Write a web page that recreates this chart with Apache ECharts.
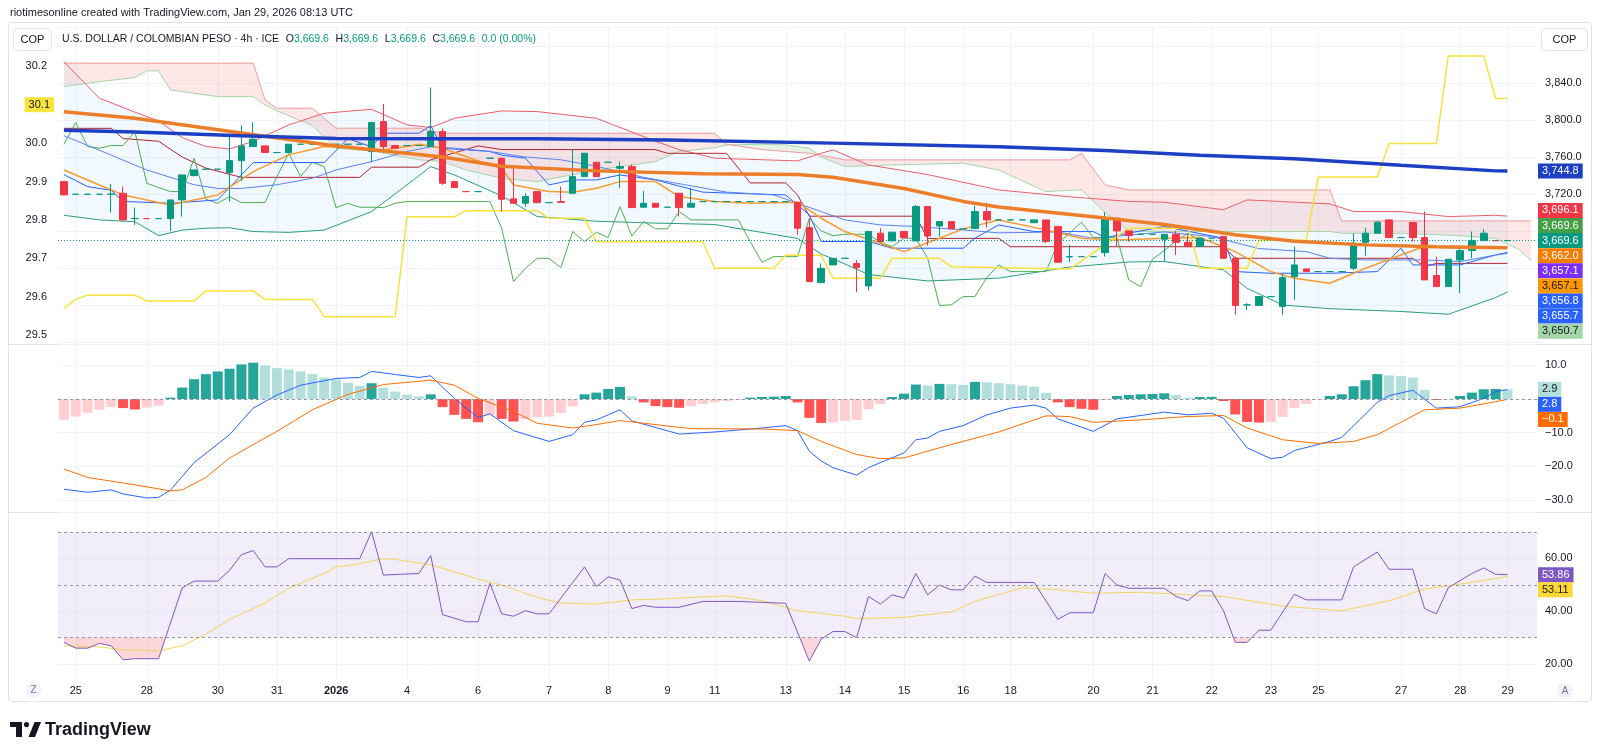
<!DOCTYPE html>
<html>
<head>
<meta charset="utf-8">
<title>USD/COP 4h</title>
<script src="https://cdn.jsdelivr.net/npm/echarts@6.0.0/dist/echarts.min.js"></script>
<style>
  html, body { margin: 0; padding: 0; background: #ffffff; }
  #chart { width: 1600px; height: 756px; }
</style>
</head>
<body>
<div id="chart"></div>
<script>
// ---------- data ----------
// x slots: one per 4h bar, plus empty room on the right
const slotCount = 125;
const dateTicks = [[1,'25'],[7,'28'],[13,'30'],[18,'31'],[23,'2026'],[29,'4'],[35,'6'],[41,'7'],[46,'8'],[51,'9'],[55,'11'],
  [61,'13'],[66,'14'],[71,'15'],[76,'16'],[80,'18'],[87,'20'],[92,'21'],[97,'22'],[102,'23'],[106,'25'],[113,'27'],[118,'28'],[122,'29']];

// candles (index 0..122)
const opens = [
  3733.4,3719.7,3719.7,3719.7,3719.7,3720.8,3693.4,3693.4,3693.4,3693.4,
  3713.6,3739.9,3746.8,3746.8,3743.2,3756.1,3771.3,3772.0,3764.8,3764.8,
  3773.8,3773.8,3773.8,3773.8,3773.8,3773.8,3765.9,3798.3,3772.4,3772.4,
  3772.4,3771.3,3787.5,3733.4,3722.6,3722.6,3758.7,3758.7,3714.7,3710.0,
  3722.6,3710.7,3711.8,3720.8,3738.8,3754.3,3754.3,3747.8,3749.6,3705.7,
  3710.0,3705.7,3720.8,3705.7,3711.8,3711.8,3711.8,3711.8,3711.8,3711.8,
  3711.8,3711.8,3711.1,3683.7,3624.2,3643.3,3650.5,3644.8,3620.6,3677.6,
  3669.3,3679.4,3669.3,3706.4,3685.5,3690.2,3682.3,3682.8,3701.0,3692.0,
  3692.0,3692.0,3689.0,3692.0,3684.8,3652.0,3652.3,3652.3,3656.7,3693.8,
  3680.1,3676.5,3676.5,3671.1,3676.5,3667.8,3663.2,3672.2,3674.0,3650.5,
  3600.0,3599.4,3609.1,3598.3,3630.7,3639.0,3636.1,3636.1,3636.1,3639.7,
  3667.8,3677.6,3692.0,3672.9,3689.1,3672.9,3631.8,3619.9,3648.7,3658.8,
  3669.6,3669.6,3669.6
];
const closes = [
  3719.0,3719.7,3719.7,3719.7,3719.9,3692.0,3693.6,3693.4,3693.4,3713.6,
  3740.6,3746.0,3746.8,3746.8,3756.1,3772.0,3779.2,3764.8,3764.8,3773.8,
  3773.8,3773.8,3773.8,3773.8,3773.8,3773.8,3797.2,3771.3,3769.5,3772.4,
  3772.4,3787.5,3731.6,3727.0,3722.6,3722.6,3758.7,3714.3,3710.0,3717.2,
  3710.7,3710.7,3711.0,3738.8,3764.1,3738.8,3754.3,3749.6,3705.3,3710.0,
  3705.7,3705.7,3705.3,3710.0,3711.8,3711.8,3711.8,3711.8,3711.8,3711.8,
  3711.8,3711.8,3683.0,3625.3,3639.7,3650.5,3650.5,3640.4,3679.4,3668.6,
  3678.7,3672.9,3706.4,3674.7,3690.2,3682.3,3682.3,3701.0,3692.0,3692.0,
  3692.0,3692.0,3692.0,3668.6,3646.2,3652.3,3652.3,3652.3,3693.8,3680.1,
  3675.0,3676.5,3676.5,3676.5,3667.8,3663.2,3672.2,3672.2,3650.5,3599.4,
  3600.2,3609.1,3609.1,3629.6,3643.3,3636.1,3636.1,3636.1,3636.1,3666.8,
  3677.6,3689.5,3672.9,3672.9,3672.9,3627.1,3619.9,3649.5,3658.8,3669.6,
  3677.6,3669.6,3669.6
];
const lows = [
  3719.0,3719.7,3719.7,3719.7,3699.9,3691.0,3686.6,3693.4,3693.4,3680.1,
  3695.6,3739.0,3746.8,3746.8,3711.8,3734.1,3771.3,3764.8,3764.8,3764.8,
  3773.8,3773.8,3773.8,3773.8,3773.8,3773.8,3754.3,3764.1,3769.5,3772.4,
  3772.4,3771.3,3729.8,3727.0,3722.6,3722.6,3758.7,3701.0,3710.0,3706.4,
  3710.0,3710.7,3711.0,3720.8,3738.8,3738.8,3754.3,3726.2,3705.3,3705.7,
  3705.7,3705.7,3695.6,3705.7,3711.8,3711.8,3711.8,3711.8,3711.8,3711.8,
  3711.8,3711.8,3675.8,3625.3,3623.5,3643.3,3650.5,3613.8,3615.6,3668.6,
  3669.3,3672.9,3669.3,3664.2,3674.0,3682.3,3682.3,3682.8,3683.7,3692.0,
  3692.0,3692.0,3689.0,3666.8,3646.2,3646.2,3652.3,3652.3,3652.3,3663.2,
  3668.6,3676.5,3676.5,3647.0,3654.1,3663.2,3663.2,3672.2,3650.5,3589.3,
  3594.7,3599.4,3609.1,3589.3,3605.5,3636.1,3636.1,3636.1,3636.1,3637.9,
  3653.4,3677.6,3672.9,3672.9,3668.6,3627.1,3619.9,3619.9,3612.7,3650.5,
  3669.6,3669.6,3669.6
];
const highs = [
  3733.4,3719.7,3719.7,3719.7,3730.9,3728.0,3705.3,3693.4,3693.4,3713.6,
  3740.6,3746.0,3746.8,3746.8,3782.8,3794.0,3797.6,3772.0,3764.8,3773.8,
  3773.8,3773.8,3773.8,3773.8,3773.8,3773.8,3797.2,3817.4,3772.4,3772.4,
  3772.4,3835.1,3791.1,3733.4,3722.6,3722.6,3758.7,3758.7,3749.6,3720.8,
  3722.6,3710.7,3728.0,3767.7,3764.1,3754.3,3754.3,3755.1,3752.0,3723.3,
  3710.0,3705.7,3720.8,3726.2,3711.8,3711.8,3711.8,3711.8,3711.8,3711.8,
  3711.8,3711.8,3711.1,3693.8,3645.0,3650.5,3650.5,3648.7,3679.4,3683.0,
  3678.7,3679.4,3708.2,3706.4,3690.2,3690.2,3682.3,3707.5,3710.7,3692.0,
  3692.0,3692.0,3692.0,3692.0,3684.8,3665.0,3652.3,3652.3,3700.3,3693.8,
  3680.1,3676.5,3676.5,3676.5,3680.1,3676.5,3672.2,3672.2,3674.0,3652.3,
  3601.9,3609.1,3609.1,3633.2,3663.2,3639.0,3636.1,3636.1,3636.1,3677.6,
  3683.7,3691.0,3692.0,3672.9,3689.1,3701.0,3652.3,3649.5,3661.4,3679.4,
  3682.0,3669.6,3669.6
];
const laggingShift = 25; // lagging span = closes drawn 25 bars back

// overlays on the price pane, as [bar index, value] points
const smaLong = [[0,3789],[6,3787],[15,3783],[23,3780],[32,3779.6],[40,3779.6],[51,3778.5],[65,3775],[79,3771],[88,3767],[96,3762],[104,3758],[113,3751],[121,3745],[122,3744.8]];
const smaMid = [[0,3809],[6,3802],[15,3786],[23,3772],[32,3760],[37,3750],[45,3745],[54,3742],[62,3741],[65,3738],[71,3726],[76,3712],[79,3706],[88,3694],[93,3687],[99,3676],[104,3669],[110,3665],[116,3663],[122,3662]];
const emaFast = [[0,3746],[3,3729.8],[5,3719],[9,3708.2],[11,3713.6],[13,3719],[16,3744.2],[19,3762.3],[22,3771.3],[25,3769.5],[26,3765.9],[29,3771.3],[30,3773.8],[32,3769.5],[36,3751.4],[37,3748],[38,3729.8],[41,3722.6],[43,3722],[45,3726.2],[47,3733.4],[50,3733.4],[52,3717.2],[55,3711.8],[58,3710],[62,3711],[64,3693.8],[66,3679.4],[69,3666.8],[71,3657.7],[74,3672.2],[76,3682.3],[79,3692],[83,3681.2],[86,3672.2],[89,3670.4],[93,3672.2],[96,3672.9],[99,3657.7],[102,3636.1],[104,3628.9],[107,3623.5],[110,3639.7],[113,3654.1],[115,3663.2],[118,3661.4],[121,3663.2],[122,3662]];
const smaShort = [[0,3783],[4,3762],[7,3746],[11,3730],[13,3726],[15,3726],[18,3730],[21,3737],[23,3746],[26,3755],[29,3766],[31,3771],[33,3769.5],[36,3766],[39,3760],[42,3757],[45,3750],[49,3738],[56,3722],[60,3719],[64,3701],[66,3692],[69,3686.6],[72,3684.8],[76,3681.2],[79,3678],[84,3679],[87,3672],[93,3679],[97,3674],[101,3661],[105,3657.7],[107,3650.5],[110,3648.7],[115,3648.7],[118,3647],[121,3654],[122,3655.7]];
const conversionLine = [[0,3741],[2,3728],[4,3724],[5,3712],[9,3710],[13,3713.6],[16,3754],[22,3754],[24,3780],[26,3771],[27,3785.7],[30,3785.7],[31,3794],[32,3769.5],[36,3766],[37,3762],[39,3758.7],[41,3729.8],[43,3735.2],[45,3735.2],[47,3740.6],[50,3735.2],[54,3722],[61,3719],[63,3697.4],[64,3668.6],[68,3668.6],[70,3661.4],[76,3661.4],[77,3672.2],[79,3686.6],[82,3679.4],[87,3679.4],[88,3672.9],[93,3684.8],[98,3672.2],[99,3636.1],[102,3634.3],[107,3634.3],[111,3636.1],[113,3661.4],[114,3643.3],[118,3643.3],[121,3654.1],[122,3656.8]];
const baseLine = [[0,3791],[4,3791],[5,3780],[8,3777],[10,3760],[12,3748],[15,3738],[25,3738],[26,3749],[30,3749],[31,3757],[35,3772],[37,3768],[50,3768],[51,3764],[56,3764],[58,3732],[61,3732],[62,3719],[63,3696],[72,3696],[73,3672],[79,3672],[80,3663],[98,3663],[99,3650.5],[114,3650.5],[115,3641.5],[116,3645],[122,3645]];

// channel (upper / lower) at shared bar indices
const bandIdx = [0,3,6,8,10,12,14,16,19,22,26,29,31,33,37,40,45,50,52,55,62,64,65,68,73,79,85,90,93,98,100,103,107,109,113,117,121,122];
const bandUpper = [3863,3823.5,3808.5,3799,3781,3771.3,3768.7,3777,3794.7,3807.3,3811.6,3794.7,3791.8,3801.9,3809.8,3809.1,3801.9,3777,3768,3758.7,3755.8,3764,3767.7,3751.4,3741,3724.4,3717,3712,3711.1,3703,3713.6,3711.8,3709.3,3701,3701,3695.6,3697,3696.1];
const bandLower = [3697,3692,3690,3675,3681,3683,3683.5,3679.4,3678.5,3681,3701,3729.8,3749.6,3740.6,3718,3695.6,3690.5,3688.5,3688,3687,3672,3655,3650,3633,3626,3629,3641,3646.5,3647,3638,3618,3600,3596,3595,3593,3590,3608,3614];

// cloud (lead A / lead B) at shared bar indices
const cloudIdx = [0,3,6,7,8,9,13,16,17,18,21,23,26,30,32,34,37,40,45,50,52,55,56,59,61,63,64,66,70,76,79,83,85,86,88,90,92,107,108,113,118,121,123,124];
const leadB = [3861.4,3861.4,3861.4,3861.4,3861.4,3861.4,3861.4,3861.4,3821.7,3812.7,3812.7,3791.1,3791.1,3791.1,3785.7,3785.7,3785.7,3785.7,3785.7,3785.7,3785.7,3785.7,3773.8,3768.0,3766.0,3764.0,3762.0,3756.9,3756.9,3756.9,3756.9,3756.9,3756.9,3764.1,3729.8,3724.4,3724.4,3724.4,3690.9,3690.9,3690.9,3690.9,3690.9,3690.9];
const leadA = [3836.1,3841.5,3845.9,3853.1,3853.1,3832.5,3825.3,3825.3,3816.3,3810.0,3794.0,3769.5,3766.6,3757.0,3755.0,3746.0,3737.0,3733.4,3746.0,3755.1,3765.9,3770.0,3773.1,3773.8,3773.1,3769.5,3760.0,3749.6,3751.4,3753.3,3746.0,3722.6,3724.0,3724.4,3700.0,3680.0,3679.4,3679.4,3677.6,3677.6,3675.0,3672.0,3660.0,3648.0];

// compared symbol on the left scale
const leftSymbol = [[0,29.570],[1,29.593],[2,29.604],[6,29.604],[7,29.589],[11,29.589],[12,29.615],[16,29.615],[17,29.593],[21,29.593],[22,29.548],[28,29.548],[29,29.808],[33,29.808],[34,29.824],[40,29.824],[41,29.804],[44,29.804],[45,29.743],[54,29.743],[55,29.674],[60,29.674],[61,29.708],[64,29.708],[65,29.648],[69,29.648],[70,29.700],[74,29.700],[75,29.678],[85,29.672],[90,29.778],[95,29.778],[96,29.674],[100,29.674],[101,29.747],[105,29.747],[106,29.912],[111,29.912],[112,29.999],[116,29.999],[117,30.227],[120,30.227],[121,30.116],[122,30.116]];

// MACD pane
const macdHist = [
  -6.2,-5.2,-4.1,-3.2,-2.4,-2.7,-3.1,-2.5,-2.0,0.4,
  3.4,5.9,7.4,8.2,9.0,10.3,10.8,10.0,9.2,8.8,
  8.2,7.4,6.4,5.8,4.8,3.9,4.7,3.4,2.2,1.3,
  0.8,1.4,-2.4,-4.7,-5.9,-6.9,-4.8,-5.9,-6.7,-6.0,
  -5.4,-5.2,-4.1,-2.2,1.4,1.9,3.0,3.6,0.8,-1.0,
  -2.1,-2.4,-2.6,-2.1,-1.5,-1.0,-0.6,-0.3,0.4,0.6,
  0.7,0.9,-1.0,-5.6,-7.1,-7.0,-6.5,-6.2,-3.0,-1.5,
  0.6,1.6,4.3,4.0,4.5,4.4,4.2,5.1,5.0,4.7,
  4.4,4.0,3.7,1.8,-1.0,-2.4,-2.9,-3.2,-0.3,0.9,
  1.2,1.4,1.5,1.7,1.2,0.4,0.6,0.65,-0.6,-4.6,
  -6.8,-7.0,-6.8,-5.3,-2.7,-1.5,-0.2,0.9,1.4,3.8,
  5.6,7.4,7.0,6.8,6.4,2.7,-0.3,-0.1,0.9,1.9,
  2.9,3.0,2.9
];
const macdLine = [[0,-26.8],[2,-27.7],[4,-27.0],[5,-28.2],[7,-29.4],[8,-29.2],[9,-27.1],[11,-18.9],[14,-10.6],[16,-2.7],[18,1.2],[20,4.1],[23,6.1],[25,6.4],[26,8.2],[28,7.3],[30,6.4],[31,6.9],[33,0.2],[35,-5.5],[36,-4.4],[38,-9.4],[41,-12.6],[43,-10.6],[44,-6.9],[45,-6.2],[47,-3.2],[48,-6.5],[52,-10.4],[55,-9.8],[59,-8.6],[61,-7.9],[62,-9.4],[63,-15.5],[64,-18.4],[65,-20.4],[67,-22.6],[68,-20.4],[69,-18.9],[71,-16.0],[72,-12.1],[73,-11.6],[74,-9.6],[76,-7.9],[78,-4.7],[80,-2.7],[82,-1.8],[83,-2.7],[84,-5.9],[87,-9.6],[89,-5.9],[93,-3.9],[95,-4.7],[97,-4.2],[98,-5.7],[100,-14.5],[102,-17.7],[103,-17.3],[104,-15.3],[107,-12.6],[108,-11.4],[111,-1.0],[112,1.0],[114,2.6],[116,-2.7],[118,-2.3],[120,0.2],[121,2.2],[122,2.8]];
const signalLine = [[0,-20.8],[2,-23.3],[6,-25.5],[9,-27.3],[10,-27.0],[12,-23.3],[14,-17.5],[18,-9.6],[21,-3.2],[24,1.4],[27,4.3],[31,5.6],[33,4.1],[35,0.2],[38,-3.7],[40,-7.2],[43,-8.6],[45,-7.6],[47,-6.4],[49,-7.2],[53,-8.8],[59,-8.9],[62,-9.4],[64,-12.6],[67,-16.5],[69,-17.7],[71,-17.5],[75,-13.5],[79,-9.8],[83,-5.0],[85,-5.2],[87,-6.9],[91,-6.2],[95,-5.2],[98,-4.9],[100,-8.6],[103,-12.1],[106,-13.2],[109,-12.6],[111,-10.6],[115,-3.2],[118,-2.7],[121,-0.8],[122,-0.1]];

// RSI pane
const rsiLine = [[0,28.2],[1,26.0],[2,26.0],[3,27.8],[4,26.9],[5,21.6],[6,22.0],[8,22.0],[10,48.9],[11,51.4],[13,51.4],[14,55.5],[15,61.4],[16,63.0],[17,56.8],[18,56.8],[19,59.9],[25,59.9],[26,70.1],[27,53.7],[30,54.3],[31,61.1],[32,38.7],[34,36.0],[35,36.0],[36,50.6],[37,39.0],[38,38.1],[39,40.2],[40,39.0],[41,39.0],[44,56.8],[45,49.3],[46,53.0],[47,51.8],[48,41.0],[49,42.2],[50,41.5],[52,41.5],[54,43.7],[57,43.7],[61,43.0],[63,21.1],[64,29.4],[65,32.3],[66,32.3],[67,30.0],[68,45.6],[69,42.7],[70,46.2],[71,45.0],[72,54.3],[73,46.2],[74,49.9],[75,48.1],[76,48.1],[77,53.3],[78,50.9],[82,50.9],[84,36.9],[85,39.4],[87,39.4],[88,54.3],[89,49.9],[90,48.7],[93,48.7],[94,45.6],[95,44.0],[96,47.7],[97,47.7],[98,40.2],[99,28.2],[100,28.2],[101,32.8],[102,32.8],[104,46.4],[105,44.3],[108,44.3],[109,56.8],[111,62.4],[112,55.9],[114,55.9],[115,41.0],[116,39.0],[117,48.9],[119,54.3],[120,56.4],[121,54.0],[122,53.86]];
const rsiMa = [[0,26.9],[3,26.5],[5,25.4],[8,25.0],[10,26.9],[12,31.3],[14,36.9],[17,43.1],[19,48.7],[22,54.3],[23,56.8],[25,58.0],[27,59.9],[28,59.6],[31,57.6],[35,52.2],[37,49.9],[40,45.2],[42,43.1],[45,42.7],[48,44.3],[51,44.7],[53,45.2],[56,45.8],[59,44.0],[62,40.2],[66,38.1],[67,37.2],[71,37.7],[75,39.7],[77,43.7],[81,48.9],[84,48.1],[87,46.8],[91,47.2],[95,46.2],[98,45.6],[103,41.9],[108,40.2],[112,44.0],[115,48.4],[118,50.3],[121,52.4],[122,53.11]];
const rsiLevels = [70, 50, 30];

// last-value badges on the scales
const priceBadgeValues = [3744.8, 3696.1, 3669.6, 3669.6, 3662.0, 3657.1, 3657.1, 3656.8, 3655.7, 3650.7];
const priceBadgeAnchor = 3; // the series' own last-price badge keeps its place
const macdBadgeValues = [2.9, 2.8, -0.1];
const rsiBadgeValues = [53.86, 53.11];
const leftBadgeValues = [30.1];

// ---------- styling ----------
const FONT = '"Liberation Sans", Arial, sans-serif';
const TXT = '#131722';
const GRID = '#f0f3fa';
const UP = '#089981', DOWN = '#f23645';
const priceBadgeBg = ['#1c3fc4','#f23645','#43a047','#089981','#f57c00','#7b2ff7','#ff9800','#2962ff','#2962ff','#a5d6a7'];
const priceBadgeFg = ['#fff','#fff','#fff','#fff','#fff','#fff',TXT,'#fff','#fff',TXT];
const macdBadgeBg = ['#b2dfdb','#2962ff','#ff6d00'];
const macdBadgeFg = [TXT,'#fff','#fff'];
const rsiBadgeBg = ['#7e57c2','#fdd835'];
const rsiBadgeFg = ['#fff', TXT];

const slotNames = Array.from({ length: slotCount }, (_, i) => String(i));
const slotLabels = Array.from({ length: slotCount }, () => '');
dateTicks.forEach(([i, s]) => { slotLabels[i] = s; });

const fmtPrice = v => v.toLocaleString('en-US', { minimumFractionDigits: 1, maximumFractionDigits: 1 });
const fmtSigned = (v, d) => (v < 0 ? '\u2212' : '') + Math.abs(v).toFixed(d);

function histColor(i) {
  const v = macdHist[i], p = i > 0 ? macdHist[i - 1] : v;
  if (v >= 0) return v >= p ? '#26a69a' : '#b2dfdb';
  return v < p ? '#ff5252' : '#ffcdd2';
}

function line(name, data, color, width, xi, yi, z) {
  return {
    name, type: 'line', data, xAxisIndex: xi, yAxisIndex: yi, z: z || 3,
    showSymbol: false, symbol: 'none', silent: true, clip: true,
    lineStyle: { color, width }
  };
}

const candleData = opens.map((o, i) => [o, closes[i], lows[i], highs[i]]);
const lagging = closes.slice(laggingShift).map((c, i) => [i, c]);

const cloudFill = {
  type: 'custom', xAxisIndex: 0, yAxisIndex: 0, z: 1, silent: true, clip: true,
  data: cloudIdx.slice(1).map((_, i) => i),
  renderItem: (params, api) => {
    const i = params.dataIndex;
    const x0 = cloudIdx[i], x1 = cloudIdx[i + 1];
    const a0 = leadA[i], a1 = leadA[i + 1], b0 = leadB[i], b1 = leadB[i + 1];
    const d0 = a0 - b0, d1 = a1 - b1;
    const col = d => (d > 0 ? 'rgba(67,160,71,0.13)' : 'rgba(244,67,54,0.12)');
    const c = p => api.coord(p);
    if (d0 * d1 < 0) {
      const t = d0 / (d0 - d1);
      const xm = x0 + t * (x1 - x0), ym = a0 + t * (a1 - a0);
      return { type: 'group', children: [
        { type: 'polygon', shape: { points: [c([x0, a0]), c([xm, ym]), c([x0, b0])] }, style: { fill: col(d0) } },
        { type: 'polygon', shape: { points: [c([xm, ym]), c([x1, a1]), c([x1, b1])] }, style: { fill: col(d1) } }
      ] };
    }
    return { type: 'polygon', shape: { points: [c([x0, a0]), c([x1, a1]), c([x1, b1]), c([x0, b0])] }, style: { fill: col(d0 + d1) } };
  }
};

const bandFill = {
  type: 'custom', xAxisIndex: 0, yAxisIndex: 0, z: 1, silent: true, clip: true,
  data: [0],
  renderItem: (params, api) => {
    const top = bandIdx.map((x, k) => api.coord([x, bandUpper[k]]));
    const bot = bandIdx.map((x, k) => api.coord([x, bandLower[k]])).reverse();
    return { type: 'polygon', shape: { points: top.concat(bot) }, style: { fill: 'rgba(33,150,243,0.06)' } };
  }
};

const rsiOversoldFill = {
  type: 'custom', xAxisIndex: 2, yAxisIndex: 3, z: 2, silent: true, clip: true,
  data: [0],
  renderItem: (params, api) => {
    const pts = rsiLine.map(p => api.coord(p));
    const yL = api.coord([0, 30])[1];
    const out = [];
    pts.forEach((p, i) => {
      if (i > 0) {
        const q = pts[i - 1];
        if ((q[1] - yL) * (p[1] - yL) < 0) {
          const t = (yL - q[1]) / (p[1] - q[1]);
          out.push([q[0] + t * (p[0] - q[0]), yL]);
        }
      }
      out.push([p[0], Math.max(p[1], yL)]);
    });
    out.push([pts[pts.length - 1][0], yL], [pts[0][0], yL]);
    return { type: 'polygon', shape: { points: out }, style: { fill: 'rgba(242,54,69,0.2)' } };
  }
};

const hiddenX = i => ({ type: 'category', gridIndex: i, data: slotNames, boundaryGap: true, show: false });
const axisText = { color: TXT, fontSize: 11, fontFamily: FONT };

const option = {
  animation: false,
  backgroundColor: '#ffffff',
  grid: [
    { left: 58, right: 63, top: 27.5, bottom: 414 },
    { left: 58, right: 63, top: 344.5, bottom: 256 },
    { left: 58, right: 63, top: 512.5, bottom: 92 },
    { left: 64, right: 68.7, top: 27, bottom: 77 }
  ],
  xAxis: [
    hiddenX(0), hiddenX(1), hiddenX(2),
    {
      type: 'category', gridIndex: 3, data: slotNames, boundaryGap: false,
      axisLine: { show: false }, axisTick: { show: false },
      axisLabel: {
        interval: (i) => slotLabels[i] !== '', margin: 6, ...axisText, fontSize: 11,
        formatter: (v, i) => (slotLabels[i] === '2026' ? '{b|2026}' : slotLabels[i]),
        rich: { b: { fontWeight: 'bold', fontSize: 11, fontFamily: FONT, color: TXT } }
      },
      splitLine: { show: true, interval: (i) => slotLabels[i] !== '', lineStyle: { color: GRID, width: 1 } }
    }
  ],
  yAxis: [
    {
      type: 'value', gridIndex: 0, position: 'right', min: 3560, max: 3900, interval: 40,
      axisLine: { show: false }, axisTick: { show: false },
      axisLabel: { ...axisText, margin: 8, formatter: v => (v >= 3700 && v <= 3850 ? fmtPrice(v) : '') },
      splitLine: { lineStyle: { color: GRID } }
    },
    {
      type: 'value', gridIndex: 0, position: 'left', min: 29.482, max: 30.301, splitNumber: 8,
      axisLine: { show: false }, axisTick: { show: false }, splitLine: { show: false },
      axisLabel: {
        ...axisText, margin: 11,
        formatter: v => { const r = Math.round(v * 10) / 10; return Math.abs(v - r) < 1e-6 && r >= 29.5 && r <= 30.2 ? r.toFixed(1) : ''; }
      }
    },
    {
      type: 'value', gridIndex: 1, position: 'right', min: -30, max: 16.2, interval: 10,
      axisLine: { show: false }, axisTick: { show: false },
      axisLabel: { ...axisText, margin: 8, formatter: v => (v !== 0 && Math.abs(v % 10) < 1e-6 ? fmtSigned(v, 1) : '') },
      splitLine: { lineStyle: { color: GRID } }
    },
    {
      type: 'value', gridIndex: 2, position: 'right', min: 20, max: 77.4, interval: 20,
      axisLine: { show: false }, axisTick: { show: false },
      axisLabel: { ...axisText, margin: 8, formatter: v => (Math.abs(v % 20) < 1e-6 ? v.toFixed(2) : '') },
      splitLine: { lineStyle: { color: GRID } }
    },
    { type: 'value', gridIndex: 3, show: false }
  ],
  series: [
    bandFill,
    cloudFill,
    line('Lead A', cloudIdx.map((x, k) => [x, leadA[k]]), '#a5d6a7', 1, 0, 0, 2),
    line('Lead B', cloudIdx.map((x, k) => [x, leadB[k]]), '#ef9a9a', 1, 0, 0, 2),
    line('Upper', bandIdx.map((x, k) => [x, bandUpper[k]]), '#ec5d69', 1, 0, 0, 3),
    line('Lower', bandIdx.map((x, k) => [x, bandLower[k]]), '#2a9d7c', 1, 0, 0, 3),
    line('Base', baseLine, '#b0242f', 1, 0, 0, 3),
    line('Lagging', lagging, '#4caf50', 1, 0, 0, 3),
    line('Conversion', conversionLine, '#2962ff', 1, 0, 0, 3),
    line('SMA short', smaShort, '#5a83f2', 1, 0, 0, 3),
    line('EMA fast', emaFast, '#f59b2f', 1.5, 0, 0, 3),
    line('Compared', leftSymbol, '#f7e23b', 1.5, 0, 1, 3),
    {
      name: 'USDCOP', type: 'candlestick', xAxisIndex: 0, yAxisIndex: 0, z: 4, silent: true,
      data: candleData, barWidth: 7,
      itemStyle: { color: UP, color0: DOWN, borderColor: UP, borderColor0: DOWN, borderWidth: 1 },
      markLine: {
        silent: true, symbol: ['none', 'none'], label: { show: false },
        lineStyle: { color: UP, type: [1, 2], width: 1 },
        data: [{ yAxis: closes[closes.length - 1] }]
      }
    },
    line('SMA mid', smaMid, '#ec7e29', 3.5, 0, 0, 5),
    line('SMA long', smaLong, '#1c3fc4', 3.5, 0, 0, 5),
    {
      name: 'Histogram', type: 'bar', xAxisIndex: 1, yAxisIndex: 2, barWidth: 10, silent: true,
      data: macdHist.map((v, i) => ({ value: v, itemStyle: { color: histColor(i) } })),
      markLine: {
        silent: true, symbol: ['none', 'none'], label: { show: false },
        lineStyle: { color: '#9598a1', type: [3, 3], width: 1 }, data: [{ yAxis: 0 }]
      }
    },
    line('MACD', macdLine, '#2962ff', 1, 1, 2, 4),
    line('Signal', signalLine, '#ff6d00', 1, 1, 2, 4),
    rsiOversoldFill,
    {
      ...line('RSI', rsiLine, '#7e57c2', 1, 2, 3, 4),
      markArea: { silent: true, itemStyle: { color: 'rgba(126,87,194,0.1)' }, data: [[{ yAxis: 30 }, { yAxis: 70 }]] },
      markLine: {
        silent: true, symbol: ['none', 'none'], label: { show: false },
        lineStyle: { color: '#9598a1', type: [3, 3], width: 1 },
        data: rsiLevels.map(v => ({ yAxis: v }))
      }
    },
    line('RSI MA', rsiMa, '#f5d35c', 1, 2, 3, 3)
  ]
};

const last = closes.length - 1;
const centered = { align: 'center', textAlign: 'center', verticalAlign: 'middle', textVerticalAlign: 'middle' };
const staticGraphics = [
  { type: 'rect', silent: true, z: 0, shape: { x: 8.5, y: 22.5, width: 1583, height: 679, r: 3 }, style: { fill: 'none', stroke: '#e0e3eb', lineWidth: 1 } },
  { type: 'line', silent: true, z: 0, shape: { x1: 8.5, y1: 344.5, x2: 1591.5, y2: 344.5 }, style: { stroke: '#e0e3eb', lineWidth: 1 } },
  { type: 'line', silent: true, z: 0, shape: { x1: 8.5, y1: 512.5, x2: 1591.5, y2: 512.5 }, style: { stroke: '#e0e3eb', lineWidth: 1 } },
  { type: 'text', silent: true, z: 100, x: 10, y: 13, style: { text: 'riotimesonline created with TradingView.com, Jan 29, 2026 08:13 UTC', font: '11px ' + FONT, fill: TXT, verticalAlign: 'middle', textVerticalAlign: 'middle' } },
  { type: 'group', silent: true, z: 100, children: [
    { type: 'rect', z: 100, shape: { x: 13.5, y: 28.5, width: 38, height: 22, r: 4 }, style: { fill: '#fff', stroke: '#e0e3eb' } },
    { type: 'text', z: 101, x: 32.5, y: 40, style: { text: 'COP', font: '11px ' + FONT, fill: TXT, ...centered } }
  ] },
  { type: 'group', silent: true, z: 100, children: [
    { type: 'rect', z: 100, shape: { x: 1541.5, y: 28.5, width: 46, height: 22, r: 4 }, style: { fill: '#fff', stroke: '#e0e3eb' } },
    { type: 'text', z: 101, x: 1564.5, y: 40, style: { text: 'COP', font: '11px ' + FONT, fill: TXT, ...centered } }
  ] },
  { type: 'text', silent: true, z: 100, x: 62, y: 39, style: {
    text: '{t|U.S. DOLLAR / COLOMBIAN PESO \u00b7 4h \u00b7 ICE}  {k|O}{v|' + fmtPrice(opens[last]) + '}  {k|H}{v|' + fmtPrice(highs[last]) +
      '}  {k|L}{v|' + fmtPrice(lows[last]) + '}  {k|C}{v|' + fmtPrice(closes[last]) + '}  {v|' + (closes[last] - opens[last]).toFixed(1) + ' (0.00%)}',
    verticalAlign: 'middle', textVerticalAlign: 'middle',
    rich: {
      t: { fontSize: 10.5, fontFamily: FONT, fill: TXT, color: TXT },
      k: { fontSize: 10.5, fontFamily: FONT, fill: TXT, color: TXT },
      v: { fontSize: 10.5, fontFamily: FONT, fill: UP, color: UP }
    }
  } },
  { type: 'circle', silent: true, z: 100, shape: { cx: 33.5, cy: 690, r: 8 }, style: { fill: '#f0f3fa' } },
  { type: 'text', silent: true, z: 101, x: 33.5, y: 690, style: { text: 'Z', font: '10px ' + FONT, fill: '#787b86', ...centered } },
  { type: 'circle', silent: true, z: 100, shape: { cx: 1565, cy: 691, r: 8 }, style: { fill: '#f0f3fa' } },
  { type: 'text', silent: true, z: 101, x: 1565, y: 691, style: { text: 'A', font: '10px ' + FONT, fill: '#787b86', ...centered } },
  // TradingView logo + wordmark
  { type: 'rect', silent: true, z: 100, shape: { x: 10, y: 722, width: 12, height: 5 }, style: { fill: '#131722' } },
  { type: 'rect', silent: true, z: 100, shape: { x: 16, y: 722, width: 6, height: 15 }, style: { fill: '#131722' } },
  { type: 'circle', silent: true, z: 100, shape: { cx: 26.5, cy: 724.6, r: 2.6 }, style: { fill: '#131722' } },
  { type: 'polygon', silent: true, z: 100, shape: { points: [[28.5, 737], [34.5, 722], [41, 722], [35, 737]] }, style: { fill: '#131722' } },
  { type: 'text', silent: true, z: 100, x: 45, y: 730, style: { text: 'TradingView', font: 'bold 18px ' + FONT, fill: '#131722', verticalAlign: 'middle', textVerticalAlign: 'middle' } }
];
option.graphic = staticGraphics;

const chart = echarts.init(document.getElementById('chart'));
chart.setOption(option);

// value badges on a scale: the anchor badge stays at its value,
// the ones above are pushed up and the ones below pushed down so none overlap
function badgeStack(axisIndex, values, bg, fg, fmt, x, align, anchor) {
  const gap = 15.1;
  const ys = values.map(v => chart.convertToPixel({ yAxisIndex: axisIndex }, v));
  for (let k = anchor - 1; k >= 0; k--) ys[k] = Math.min(ys[k], ys[k + 1] - gap);
  for (let k = anchor + 1; k < ys.length; k++) ys[k] = Math.max(ys[k], ys[k - 1] + gap);
  return values.map((v, k) => ({
    type: 'text', silent: true, z: 200, x, y: ys[k],
    style: {
      text: fmt(v), font: '11px ' + FONT, fill: fg[k], backgroundColor: bg[k],
      padding: [2, 4, 1, 4], lineHeight: 12,
      align, textAlign: align, verticalAlign: 'middle', textVerticalAlign: 'middle'
    }
  }));
}

const badges = [].concat(
  badgeStack(0, priceBadgeValues, priceBadgeBg, priceBadgeFg, fmtPrice, 1538, 'left', priceBadgeAnchor),
  badgeStack(2, macdBadgeValues, macdBadgeBg, macdBadgeFg, v => fmtSigned(v, 1), 1538, 'left', 0),
  badgeStack(3, rsiBadgeValues, rsiBadgeBg, rsiBadgeFg, v => v.toFixed(2), 1538, 'left', 0),
  badgeStack(1, leftBadgeValues, ['#f7e53b'], [TXT], v => v.toFixed(1), 54, 'right', 0)
);
chart.setOption({ graphic: staticGraphics.concat(badges) });
</script>
</body>
</html>
